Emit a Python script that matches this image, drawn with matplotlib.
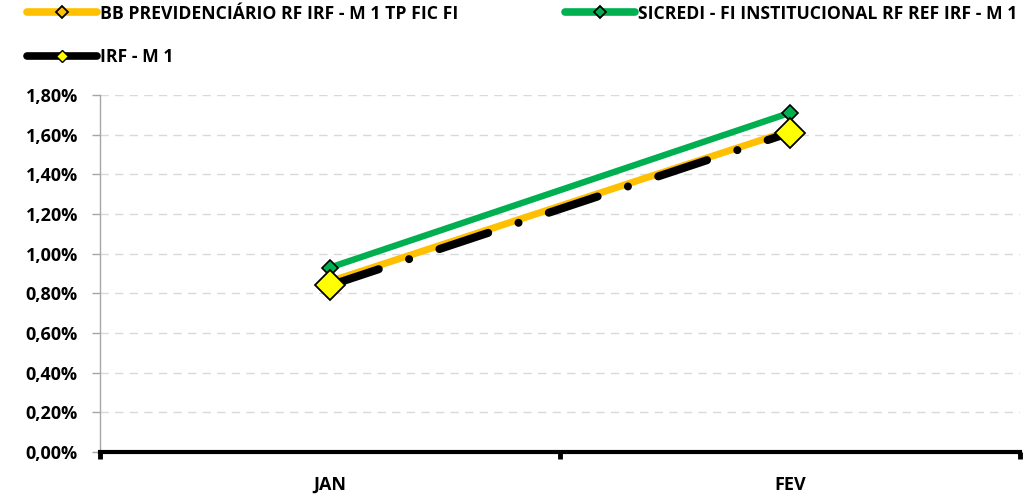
import matplotlib
matplotlib.use("Agg")
import matplotlib.pyplot as plt
from matplotlib.lines import Line2D
from matplotlib.ticker import FixedLocator, FuncFormatter

months = ["JAN", "FEV"]
bb_prev = [0.86, 1.62]
sicredi = [0.93, 1.71]
irf_m1 = [0.84, 1.61]
y_ticks = [0.0, 0.2, 0.4, 0.6, 0.8, 1.0, 1.2, 1.4, 1.6, 1.8]

label_bb = "BB PREVIDENCIÁRIO RF IRF - M 1 TP FIC FI"
label_sic = "SICREDI - FI INSTITUCIONAL RF REF IRF - M 1"
label_irf = "IRF - M 1"

ORANGE = "#ffc000"
GREEN = "#00b050"
YELLOW = "#ffff00"

plt.rcParams["font.family"] = ["Open Sans", "DejaVu Sans"]
plt.rcParams["font.weight"] = "bold"
plt.rcParams["lines.scale_dashes"] = False

fig = plt.figure(figsize=(10.25, 4.96), dpi=100)
ax = fig.add_axes([0.0976, 0.0887, 0.8974, 0.7198])

x = list(range(len(months)))

ax.plot(x, bb_prev, color=ORANGE, lw=5.0, marker="D", ms=6,
        mfc=ORANGE, mec="black", mew=1.2, zorder=3, solid_capstyle="butt")
ax.plot(x, sicredi, color=GREEN, lw=4.6, marker="D", ms=8,
        mfc=GREEN, mec="black", mew=1.2, zorder=3, solid_capstyle="butt")
black, = ax.plot(x, irf_m1, color="black", lw=5.8, zorder=4,
                 dash_capstyle="round")
black.set_dashes([37, 23, 0.01, 23])
ax.plot(x, irf_m1, ls="none", marker="D", ms=15, mfc=YELLOW,
        mec="black", mew=1.3, zorder=5)

ax.set_xlim(-0.5, 1.5)
ax.set_ylim(0, 1.8)

ax.set_xticks(x)
ax.set_xticklabels(months, fontsize=13, fontweight="bold")
ax.tick_params(axis="x", which="major", length=0, pad=17)
ax.xaxis.set_minor_locator(FixedLocator([-0.5, 0.5, 1.5]))
ax.tick_params(axis="x", which="minor", length=5, width=3.5, color="black",
               direction="out")

ax.yaxis.set_major_locator(FixedLocator(y_ticks))
ax.yaxis.set_major_formatter(FuncFormatter(
    lambda v, p: f"{v:.2f}".replace(".", ",") + "%"))
ax.tick_params(axis="y", length=6, width=1.0, color="#a6a6a6", pad=10,
               labelsize=13)
for lab in ax.get_yticklabels():
    lab.set_fontweight("bold")

ax.grid(axis="y", color="#d9d9d9", ls=(0, (6, 4.5)), lw=1.0)
ax.set_axisbelow(True)

for s in ["top", "right"]:
    ax.spines[s].set_visible(False)
ax.spines["left"].set_color("#a6a6a6")
ax.spines["left"].set_linewidth(1.0)
ax.spines["bottom"].set_color("black")
ax.spines["bottom"].set_linewidth(3.0)
ax.spines["bottom"].set_zorder(6)

# legend proxies (smaller markers than the plot)
h_bb = Line2D([], [], color=ORANGE, lw=5.5, marker="D", ms=6,
              mfc=ORANGE, mec="black", mew=1.3, solid_capstyle="round")
h_sic = Line2D([], [], color=GREEN, lw=5.5, marker="D", ms=6,
               mfc=GREEN, mec="black", mew=1.3, solid_capstyle="round")
h_irf = Line2D([], [], color="black", lw=5.5, marker="D", ms=6,
               mfc=YELLOW, mec="black", mew=1.0, solid_capstyle="round")

leg_kw = dict(frameon=False, handlelength=4.0, handletextpad=0.17,
              borderaxespad=0, prop={"weight": "bold", "size": 12.7})
leg1 = fig.legend([h_bb, h_irf], [label_bb, label_irf], loc="upper left",
                  bbox_to_anchor=(0.019, 1.005), labelspacing=1.45, **leg_kw)
leg2 = fig.legend([h_sic], [label_sic], loc="upper left",
                  bbox_to_anchor=(0.544, 1.005), **leg_kw)

fig.savefig("out.png", dpi=100)
